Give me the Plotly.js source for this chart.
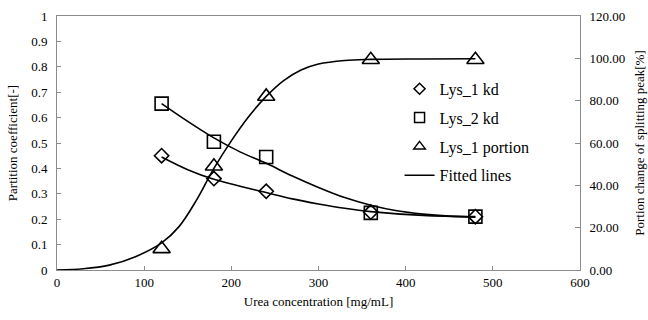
<!DOCTYPE html>
<html><head><meta charset="utf-8">
<script src="https://cdn.plot.ly/plotly-3.0.1.min.js"></script>
<style>html,body{margin:0;padding:0;background:#fff}#chart{width:648px;height:320px}</style>
</head><body><div id="chart"></div>
<script>
// Measured data
const urea = [120, 180, 240, 360, 480];
const lys1Kd = [0.45, 0.36, 0.31, 0.228, 0.21];
const lys2Kd = [0.655, 0.505, 0.445, 0.225, 0.21];
const lys1Portion = [10, 49, 82, 99.3, 99.3];
const seriesNames = ['Lys_1 kd', 'Lys_2 kd', 'Lys_1 portion', 'Fitted lines'];

// Fitted curves
const fitKdX = [120, 150, 180, 210, 240, 270, 300, 330, 360, 420, 480];
const fitLys1Kd = [0.445, 0.395, 0.357, 0.33, 0.305, 0.28, 0.26, 0.243, 0.23, 0.215, 0.21];
const fitLys2X = [120, 150, 180, 210, 240, 270, 300, 330, 360, 390, 420, 450, 480];
const fitLys2Kd = [0.655, 0.585, 0.52, 0.465, 0.42, 0.37, 0.325, 0.285, 0.255, 0.233, 0.22, 0.212, 0.208];
const fitPortionX = [0, 30, 60, 90, 120, 140, 160, 180, 200, 220, 240, 260, 280, 300, 330, 360, 420, 480];
const fitPortion = [0, 0.6, 2.3, 6.3, 12.8, 20.5, 33, 48, 61, 72.5, 82, 89.5, 94.5, 97.3, 99, 99.5, 99.7, 99.8];

const serif = "'Liberation Serif', 'Times New Roman', serif";
const mk = (sym, size) => ({symbol: sym, size: size, color: '#000', line: {color: '#000', width: 1.6}});
const lineStyle = {color: '#000', width: 1.6, shape: 'spline', smoothing: 1};
const symbols = ['diamond-open', 'square-open', 'triangle-up-open'];
const plotSizes = [11, 13, 15];
const legendSizes = [8.5, 10, 10];

const traces = [
  {x: fitKdX, y: fitLys1Kd, mode: 'lines', line: lineStyle, showlegend: false, hoverinfo: 'skip'},
  {x: fitLys2X, y: fitLys2Kd, mode: 'lines', line: lineStyle, showlegend: false, hoverinfo: 'skip'},
  {x: fitPortionX, y: fitPortion, yaxis: 'y2', mode: 'lines', line: lineStyle, showlegend: false, hoverinfo: 'skip'},
  {x: urea, y: lys1Kd, mode: 'markers', marker: mk(symbols[0], plotSizes[0]), showlegend: false},
  {x: urea, y: lys2Kd, mode: 'markers', marker: mk(symbols[1], plotSizes[1]), showlegend: false},
  {x: urea, y: lys1Portion, yaxis: 'y2', mode: 'markers', marker: mk(symbols[2], plotSizes[2]), showlegend: false}
];
// legend entries (smaller symbols, as in the original legend)
symbols.forEach((s, i) => traces.push({x: [null], y: [null], mode: 'markers', name: seriesNames[i],
  marker: {symbol: s, size: legendSizes[i], color: '#000', line: {color: '#000', width: 1.5}}, legendgroup: 'g' + i}));
traces.push({x: [null], y: [null], mode: 'lines', name: seriesNames[3], line: {color: '#000', width: 1.6}, legendgroup: 'g3'});

const axisCommon = {
  showgrid: false, zeroline: false, showline: true, linecolor: '#8c8c8c', linewidth: 1,
  tickfont: {family: serif, size: 13, color: '#000'}
};

const layout = {
  width: 648, height: 320,
  margin: {l: 57, r: 68, t: 16, b: 50},
  paper_bgcolor: '#fff', plot_bgcolor: '#fff',
  font: {family: serif, color: '#000'},
  showlegend: true,
  legend: {x: 0.655, y: 0.78, xanchor: 'left', yanchor: 'top', bgcolor: 'rgba(0,0,0,0)',
    font: {family: serif, size: 16, color: '#000'}, traceorder: 'grouped', tracegroupgap: 5, itemsizing: 'trace'},
  xaxis: Object.assign({}, axisCommon, {range: [0, 600], dtick: 100, mirror: true,
    ticks: 'inside', ticklen: 4, tickcolor: '#8c8c8c',
    title: {text: 'Urea concentration [mg/mL]', font: {family: serif, size: 13}, standoff: 8}}),
  yaxis: Object.assign({}, axisCommon, {range: [0, 1], dtick: 0.1,
    ticks: 'inside', ticklen: 4, tickcolor: '#8c8c8c', ticklabelstandoff: 6,
    title: {text: 'Partition coefficient[-]', font: {family: serif, size: 13}, standoff: 10}}),
  yaxis2: Object.assign({}, axisCommon, {range: [0, 120], dtick: 20, overlaying: 'y', side: 'right',
    tickformat: '.2f', ticks: 'inside', ticklen: 5, tickcolor: '#8c8c8c', ticklabelstandoff: 6,
    title: {text: 'Portion change of splitting peak[%]', font: {family: serif, size: 13}, standoff: 10}})
};

Plotly.newPlot('chart', traces, layout, {displayModeBar: false, staticPlot: true});
</script></body></html>
